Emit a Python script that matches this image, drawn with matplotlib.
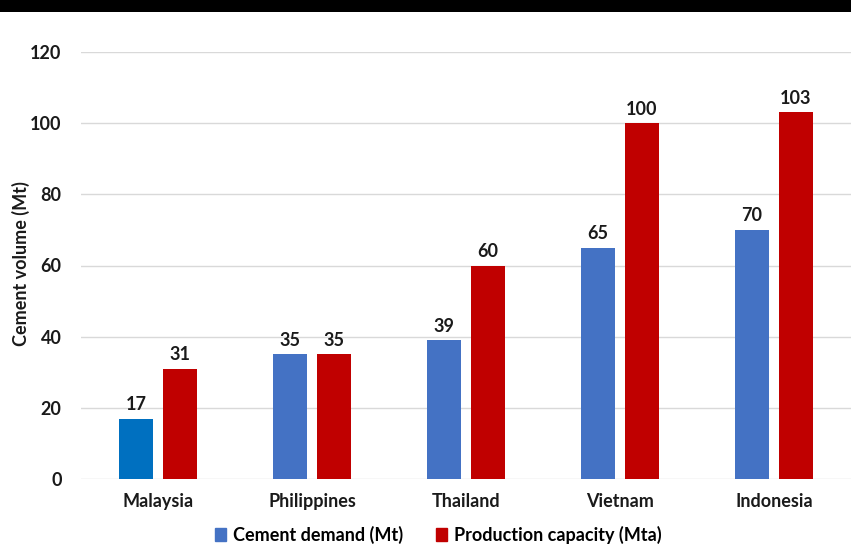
import matplotlib
matplotlib.use("Agg")
import matplotlib.pyplot as plt
from matplotlib.patches import Rectangle, Patch
import numpy as np

plt.rcParams['font.family'] = ['Lato', 'DejaVu Sans']

countries = ["Malaysia", "Philippines", "Thailand", "Vietnam", "Indonesia"]
demand = [17, 35, 39, 65, 70]
capacity = [31, 35, 60, 100, 103]
yticks = [0, 20, 40, 60, 80, 100, 120]

blue = "#4472C4"
blue_first = "#0070C0"
red = "#C00000"
text_color = "#1a1a1a"
fs = 13

W, H = 851, 548
fig = plt.figure(figsize=(W / 100, H / 100), dpi=100)
fig.patch.set_facecolor("white")
fig.add_artist(Rectangle((0, 1 - 12 / H), 1, 12 / H, transform=fig.transFigure,
                         facecolor="black", edgecolor="none", zorder=10))

ax = fig.add_axes([81 / W, (H - 479) / H, (851 - 81) / W, (479 - 52) / H])
x = np.arange(len(countries))
bw = 0.225
off = 0.143
dcolors = [blue_first] + [blue] * (len(countries) - 1)
b1 = ax.bar(x - off, demand, bw, color=dcolors, zorder=3)
b2 = ax.bar(x + off, capacity, bw, color=red, zorder=3)

for bars, vals in ((b1, demand), (b2, capacity)):
    for r, v in zip(bars, vals):
        ax.annotate(f"{v}", (r.get_x() + r.get_width() / 2, v), xytext=(0, 4),
                    textcoords="offset points", ha="center", va="bottom",
                    fontsize=fs, fontweight="bold", color=text_color)

ax.set_xlim(-0.5, len(countries) - 0.5)
ax.set_ylim(0, 120)
ax.set_yticks(yticks)
ax.set_yticklabels([str(t) for t in yticks])
ax.set_xticks(x)
ax.set_xticklabels(countries)
ax.tick_params(axis="both", length=0, labelsize=fs, colors=text_color)
ax.tick_params(axis="y", pad=14)
ax.tick_params(axis="x", pad=10)
for lab in ax.get_xticklabels() + ax.get_yticklabels():
    lab.set_fontweight("bold")
ax.grid(axis="y", color="#d9d9d9", linewidth=1, zorder=0)
for s in ax.spines.values():
    s.set_visible(False)

fig.text(21 / W, 1 - 264 / H, "Cement volume (Mt)", rotation=90, ha="center",
         va="center", fontsize=fs, fontweight="bold", color=text_color)

handles = [Patch(color=blue, label="Cement demand (Mt)"),
           Patch(color=red, label="Production capacity (Mta)")]
fig.legend(handles=handles, loc="center", bbox_to_anchor=(0.515, (H - 535) / H),
           ncol=2, frameon=False, handlelength=0.6,
           handleheight=0.7, handletextpad=0.4, columnspacing=1.8,
           prop={"weight": "bold", "size": fs})

fig.savefig("out.png", dpi=100, facecolor="white")
